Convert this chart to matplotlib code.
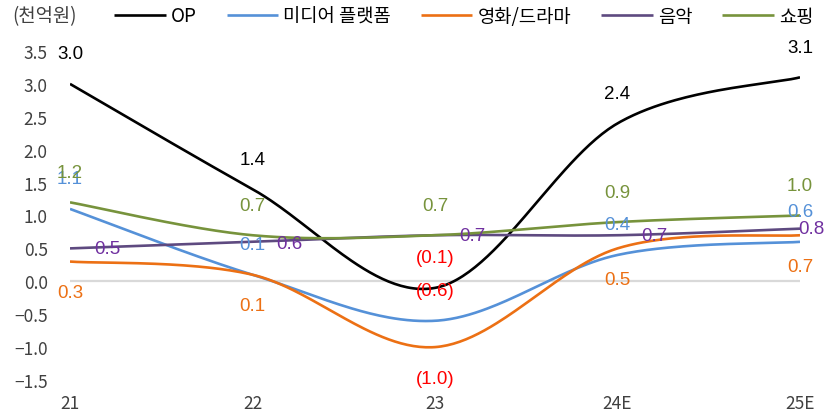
import numpy as np
import matplotlib
matplotlib.use("Agg")
import matplotlib.pyplot as plt

plt.rcParams['font.family'] = ['Noto Sans CJK KR', 'DejaVu Sans']
plt.rcParams['axes.unicode_minus'] = True

# ---- data ----
categories = ['21', '22', '23', '24E', '25E']
series_names = ['OP', '미디어 플랫폼', '영화/드라마', '음악', '쇼핑']
op = [3.0, 1.4, -0.1, 2.4, 3.1]
media = [1.1, 0.1, -0.6, 0.4, 0.6]
movie = [0.3, 0.1, -1.0, 0.5, 0.7]
music = [0.5, 0.6, 0.7, 0.7, 0.8]
shopping = [1.2, 0.7, 0.7, 0.9, 1.0]
unit_label = '(천억원)'
yticks = [-1.5, -1.0, -0.5, 0.0, 0.5, 1.0, 1.5, 2.0, 2.5, 3.0, 3.5]

# ---- styles ----
line_colors = ['#000000', '#5591D8', '#EC7014', '#5E4A80', '#77933C']
label_colors = ['#000000', '#5591D8', '#EC7014', '#7030A0', '#77933C']
px = 0.72  # points per pixel at dpi 100
label_offsets = [
    [(0, 30)] * 5,
    [(0, 30)] * 5,
    [(0, -31)] * 5,
    [(37, 0), (37, -2), (37, 0), (37, 0), (11, 0)],
    [(0, 30)] * 5,
]


def smooth(xs, ys, n=60):
    pts = np.column_stack([xs, ys]).astype(float)
    m = len(pts)
    out = []
    for i in range(m - 1):
        p0 = pts[i - 1] if i > 0 else pts[i]
        p1 = pts[i]
        p2 = pts[i + 1]
        p3 = pts[i + 2] if i + 2 < m else pts[i + 1]
        c1 = p1 + (p2 - p0) / 6.0
        c2 = p2 - (p3 - p1) / 6.0
        t = np.linspace(0, 1, n)[:, None]
        seg = ((1 - t) ** 3) * p1 + 3 * ((1 - t) ** 2) * t * c1 + 3 * (1 - t) * t ** 2 * c2 + t ** 3 * p2
        if i > 0:
            seg = seg[1:]
        out.append(seg)
    out = np.vstack(out)
    return out[:, 0], out[:, 1]


fig = plt.figure(figsize=(8.31, 4.14), dpi=100)
ax = fig.add_axes([70 / 831, 1 - 381 / 414, 730 / 831, 329 / 414])

x = np.arange(len(categories))
ax.axhline(0, color='#D9D9D9', lw=1.6, zorder=1)

all_series = [op, media, movie, music, shopping]
handles = []
for k, (vals, name) in enumerate(zip(all_series, series_names)):
    sx, sy = smooth(x, vals)
    h, = ax.plot(sx, sy, color=line_colors[k], lw=1.9, label=name, zorder=3, solid_capstyle='butt')
    handles.append(h)

for k, vals in enumerate(all_series):
    for i, v in enumerate(vals):
        if v < 0:
            txt = '({:.1f})'.format(abs(v))
            col = '#FF0000'
        else:
            txt = '{:.1f}'.format(v)
            col = label_colors[k]
        dx, dy = label_offsets[k][i]
        ax.annotate(txt, (x[i], v), xytext=(dx * px, dy * px), textcoords='offset points',
                    ha='center', va='center', color=col, fontsize=13.5,
                    family=['Liberation Sans', 'DejaVu Sans'],
                    annotation_clip=False, zorder=5)

ax.set_xlim(0, len(categories) - 1)
ax.set_ylim(-1.5, 3.5)
ax.set_xticks(x)
ax.set_xticklabels(categories)
ax.set_yticks(yticks)
ax.set_yticklabels(['{:.1f}'.format(t).replace('-', '\u2212') for t in yticks])
ax.tick_params(axis='both', length=0, labelsize=12.5, labelcolor='#404040')
ax.tick_params(axis='x', pad=10)
ax.tick_params(axis='y', pad=16)
for s in ax.spines.values():
    s.set_visible(False)

fig.text(12 / 831, 1 - 17 / 414, unit_label, ha='left', va='center', fontsize=13.5, color='#404040')
fig.legend(handles=handles, labels=series_names, loc='center left', bbox_to_anchor=(114 / 831, 1 - 17 / 414),
           ncol=5, frameon=False, fontsize=13.5, handlelength=2.75, handletextpad=0.27, columnspacing=1.6,
           borderpad=0, borderaxespad=0, labelcolor='#000000')

fig.savefig('out.png', dpi=100)
